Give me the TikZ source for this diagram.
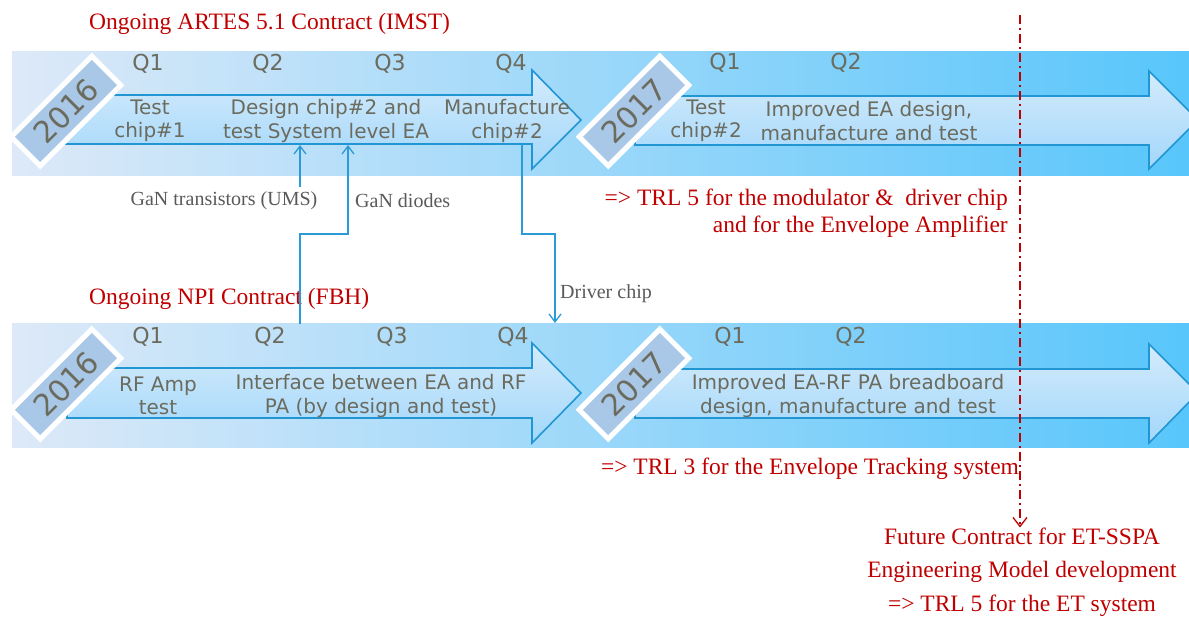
\documentclass[tikz,border=0pt]{standalone}
\usepackage{fontspec}
\setmainfont{Liberation Serif}
\newfontfamily\vsans{DejaVu Sans}
\newfontfamily\ysans{DejaVu Sans}
\usetikzlibrary{arrows.meta}
\definecolor{ttl}{HTML}{C00000}
\definecolor{gtx}{HTML}{6B6B5E}
\definecolor{lbl}{HTML}{595959}
\definecolor{conncol}{HTML}{2A9AD8}
\definecolor{bgl}{HTML}{DDE9F8}
\definecolor{bgm}{HTML}{B2DCFA}
\definecolor{bgr}{HTML}{58C6FB}
\definecolor{arT}{HTML}{D4EBFC}
\definecolor{arB}{HTML}{A2D7FA}
\definecolor{arD}{HTML}{2196D3}
\definecolor{dia}{HTML}{A9C7E6}
\begin{document}
\begin{tikzpicture}[x=1pt,y=-1pt,
  band/.style={left color=bgl, middle color=bgm, right color=bgr},
  arrowbox/.style={top color=arT, bottom color=arB, draw=arD, line width=1.6pt, line join=miter},
  yearbox/.style={rectangle, fill=dia, draw=white, line width=5pt, minimum width=114pt, minimum height=41pt, inner sep=0pt, rotate=45, text=gtx, font=\ysans\fontsize{30}{30}\selectfont},
  qlab/.style={text=gtx, font=\vsans\fontsize{22}{24}\selectfont, inner sep=0pt},
  atxt/.style={text=gtx, font=\vsans\fontsize{20}{23.5}\selectfont, align=center, inner sep=0pt},
  redtxt/.style={text=ttl, font=\fontsize{23.5}{27}\selectfont, inner sep=0pt},
  glab/.style={text=lbl, font=\fontsize{20}{22}\selectfont, inner sep=0pt},
  conn/.style={draw=conncol, line width=1.4pt, -{Straight Barb[length=8pt,width=12pt,line width=1.3pt]}},
  futline/.style={draw=ttl, line width=1.4pt, dash pattern=on 9pt off 4pt on 2pt off 4pt, -{Straight Barb[length=9pt,width=14pt,line width=1.3pt]}}
]
\useasboundingbox (0,0) rectangle (1189,617);

% titles
\node[redtxt, anchor=west] (t1) at (89,24) {Ongoing ARTES 5.1 Contract (IMST)};
\node[redtxt, anchor=west] (t2) at (89,299) {Ongoing NPI Contract (FBH)};

% bands
\fill[band] (12,52) rectangle (1189,176);
\fill[band] (12,324) rectangle (1189,448);

% upper arrows
\draw[arrowbox] (57,95) -- (532,95) -- (532,70) -- (581,120) -- (532,169) -- (532,144) -- (57,144) -- cycle;
\draw[arrowbox] (635,96) -- (1149,96) -- (1149,71) -- (1198,120) -- (1149,169) -- (1149,145) -- (635,145) -- cycle;
% lower arrows
\draw[arrowbox] (67,368) -- (532,368) -- (532,343) -- (581,393) -- (532,443) -- (532,418) -- (67,418) -- cycle;
\draw[arrowbox] (635,369) -- (1149,369) -- (1149,344) -- (1198,393) -- (1149,443) -- (1149,418) -- (635,418) -- cycle;

% year diamonds
\node[yearbox] (y16a) at (66,111) {2016};
\node[yearbox] (y17a) at (634,111) {2017};
\node[yearbox] (y16b) at (66,384) {2016};
\node[yearbox] (y17b) at (634,384) {2017};

% quarters upper
\node[qlab] (qa1) at (148,64) {Q1};
\node[qlab] (qa2) at (268,64) {Q2};
\node[qlab] (qa3) at (390,64) {Q3};
\node[qlab] (qa4) at (511,64) {Q4};
\node[qlab] (qa5) at (725,63) {Q1};
\node[qlab] (qa6) at (846,63) {Q2};
% quarters lower
\node[qlab] (qb1) at (148,337) {Q1};
\node[qlab] (qb2) at (270,337) {Q2};
\node[qlab] (qb3) at (392,337) {Q3};
\node[qlab] (qb4) at (513,337) {Q4};
\node[qlab] (qb5) at (730,337) {Q1};
\node[qlab] (qb6) at (851,337) {Q2};

% arrow texts upper
\node[atxt] (ta1) at (150,121) {Test\\chip\#1};
\node[atxt] (ta2) at (326,121) {Design chip\#2 and\\test System level EA};
\node[atxt] (ta3) at (507,121) {Manufacture\\chip\#2};
\node[atxt] (ta4) at (706,121) {Test\\chip\#2};
\node[atxt] (ta5) at (869,121) {Improved EA design,\\manufacture and test};
% arrow texts lower
\node[atxt] (tb1) at (158,396) {RF Amp\\test};
\node[atxt] (tb2) at (381,396) {Interface between EA and RF\\PA (by design and test)};
\node[atxt] (tb3) at (848,396) {Improved EA-RF PA breadboard\\design, manufacture and test};

% connector labels
\node[glab] (gant) at (224,201) {GaN transistors (UMS)};
\node[glab, anchor=west] (gand) at (355,201) {GaN diodes};
\node[glab, anchor=west] (drv) at (560,294) {Driver chip};

% connectors
\coordinate (gtS) at (300,187);
\coordinate (gtE) at (300,145);
\draw[conn] (gtS) -- (gtE);
\coordinate (gdS) at (300,324);
\coordinate (gdE) at (348,145);
\draw[conn] (gdS) |- (gdE |- 0,234) -- (gdE);
\coordinate (drS) at (522,144);
\coordinate (drE) at (555,323);
\draw[conn] (drS) -- ++(0,90) -| (drE);

% red texts
\node[redtxt, anchor=east, align=right] (trl5) at (1008,213) {=> TRL 5 for the modulator \&\ \ driver chip\\and for the Envelope Amplifier};
\node[redtxt] (trl3) at (810,469) {=> TRL 3 for the Envelope Tracking system};
\node[redtxt, align=center, font=\fontsize{23.5}{33.5}\selectfont] (fut) at (1022,572) {Future Contract for ET-SSPA\\Engineering Model development\\=> TRL 5 for the ET system};

\coordinate (fS) at (1020,15);
\draw[futline] (fS) -- (fS |- fut.north);
\end{tikzpicture}
\end{document}
